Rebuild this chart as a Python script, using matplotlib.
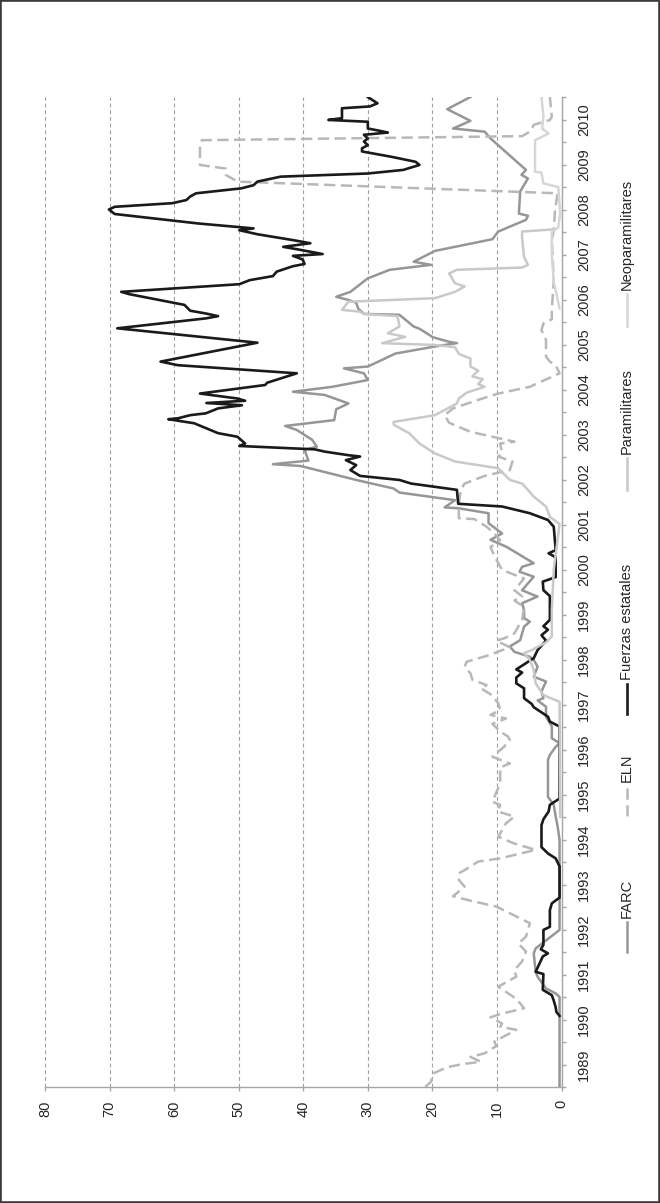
import matplotlib
matplotlib.use("Agg")
import matplotlib.pyplot as plt
from matplotlib.lines import Line2D
from matplotlib.patches import Rectangle
from matplotlib.ticker import FixedFormatter, NullFormatter
import numpy as np

plt.rcParams['font.family'] = ['Liberation Sans', 'DejaVu Sans']

# ---------------------------------------------------------------- data
years = list(range(1989, 2011))
value_ticks = [0, 10, 20, 30, 40, 50, 60, 70, 80]
legend_labels = ["FARC", "ELN", "Fuerzas estatales", "Paramilitares", "Neoparamilitares"]

farc_t = [1989.0, 1991.0, 1991.08, 1991.19, 1991.45, 1991.56, 1991.97, 1992.08, 1992.49,
          1994.49, 1994.79, 1995.01, 1995.27, 1995.45, 1996.27, 1996.38, 1996.56, 1996.64,
          1996.75, 1997.01, 1997.23, 1997.45, 1997.59, 1997.64, 1997.79, 1998.01, 1998.12,
          1998.34, 1998.49, 1998.56, 1998.67, 1998.79, 1998.93, 1999.23, 1999.34, 1999.42,
          1999.6, 1999.75, 1999.9, 1999.93, 2000.04, 2000.19, 2000.34, 2000.45, 2000.56,
          2000.64, 2001.01, 2001.16, 2001.3, 2001.53, 2001.75, 2001.86, 2001.88, 2002.04,
          2002.21, 2002.3, 2002.49, 2002.8, 2002.84, 2002.92, 2003.16, 2003.23, 2003.38,
          2003.6, 2003.69, 2003.82, 2004.06, 2004.19, 2004.38, 2004.45, 2004.56, 2004.71,
          2004.86, 2004.97, 2005.01, 2005.3, 2005.47, 2005.53, 2005.56, 2005.66, 2005.85,
          2005.9, 2006.16, 2006.18, 2006.3, 2006.43, 2006.49, 2006.56, 2006.67, 2006.97,
          2007.16, 2007.27, 2007.34, 2007.58, 2007.84, 2008.01, 2008.27, 2008.36, 2008.41,
          2008.9, 2009.19, 2009.27, 2009.38, 2010.08, 2010.23, 2010.3, 2010.47, 2010.73, 2011.0]
farc_v = [0.3, 0.3, 0.9, 2.4, 3.7, 4.0, 4.3, 4.0, 0.3,
          0.3, 0.6, 0.9, 1.2, 2.1, 2.1, 1.8, 0.9, 0.3,
          1.5, 1.5, 2.4, 2.4, 3.7, 2.8, 3.1, 2.4, 4.3,
          3.7, 4.3, 4.9, 7.3, 8.0, 6.4, 5.8, 4.9, 5.8,
          5.8, 6.1, 3.7, 4.3, 6.1, 5.2, 4.3, 6.5, 6.1,
          4.3, 8.6, 11.0, 9.2, 11.3, 11.3, 15.9, 18.1, 16.5,
          25.1, 26.0, 31.8, 40.4, 44.7, 39.2, 39.8, 37.9, 38.6,
          41.0, 42.8, 35.2, 34.9, 33.0, 36.7, 41.6, 35.5, 30.0,
          30.6, 33.7, 30.0, 25.7, 19.0, 16.2, 17.4, 19.9, 22.0,
          22.9, 25.1, 30.6, 31.5, 31.8, 33.0, 34.9, 32.7, 30.0,
          26.6, 20.2, 22.9, 19.6, 10.7, 9.8, 5.5, 5.2, 6.6,
          6.4, 5.2, 6.2, 5.5, 11.0, 11.9, 16.8, 14.1, 17.7, 14.1]

eln_t = [1989.0, 1989.12, 1989.3, 1989.44, 1989.51, 1989.56, 1989.67, 1989.75, 1989.91,
         1990.01, 1990.27, 1990.34, 1990.41, 1990.55, 1990.62, 1990.75, 1990.86, 1991.02,
         1991.14, 1991.23, 1991.45, 1991.6, 1991.79, 1992.01, 1992.19, 1992.34, 1992.64,
         1992.86, 1993.01, 1993.14, 1993.24, 1993.45, 1993.6, 1993.75, 1993.82, 1994.01,
         1994.08, 1994.27, 1994.41, 1994.56, 1994.86, 1995.01, 1995.12, 1995.27, 1995.34,
         1995.75, 1996.1, 1996.19, 1996.27, 1996.34, 1996.56, 1996.71, 1996.79, 1996.9,
         1997.07, 1997.19, 1997.27, 1997.38, 1997.53, 1997.73, 1997.86, 1997.93, 1998.05,
         1998.19, 1998.34, 1998.45, 1998.58, 1998.77, 1998.92, 1998.97, 1999.08, 1999.38,
         1999.67, 1999.81, 1999.9, 2000.04, 2000.3, 2000.49, 2000.8, 2001.0, 2001.15,
         2001.3, 2001.45, 2001.62, 2001.64, 2001.96, 2002.28, 2002.41, 2002.58, 2002.71,
         2002.9, 2003.01, 2003.08, 2003.3, 2003.34, 2003.44, 2003.56, 2003.76, 2003.93,
         2004.08, 2004.27, 2004.41, 2004.56, 2004.86, 2005.04, 2005.12, 2005.23, 2005.6,
         2005.82, 2005.97, 2006.06, 2006.27, 2006.93, 2007.82, 2008.04, 2008.5, 2008.86,
         2009.12, 2009.27, 2009.41, 2009.49, 2009.9, 2010.04, 2010.13, 2010.23, 2010.38,
         2010.49, 2010.56, 2011.0]
eln_v = [21.1, 20.2, 19.9, 17.7, 15.3, 12.5, 14.1, 11.9, 10.1,
         10.4, 7.0, 9.5, 9.2, 11.0, 9.5, 5.8, 6.4, 7.6,
         8.9, 9.8, 7.0, 7.3, 6.1, 5.5, 6.7, 5.5, 4.9,
         8.0, 10.1, 14.1, 16.8, 15.0, 15.9, 15.9, 15.0, 12.9,
         9.5, 4.0, 7.3, 9.8, 8.6, 7.3, 9.8, 9.5, 10.7,
         9.5, 9.5, 8.0, 9.5, 10.7, 8.9, 8.0, 8.3, 9.5,
         10.7, 8.6, 11.0, 9.5, 9.8, 11.0, 12.5, 11.6, 13.8,
         14.1, 15.0, 14.7, 11.6, 8.0, 10.1, 8.9, 7.3, 6.1,
         5.8, 7.3, 6.1, 7.3, 5.8, 9.2, 10.4, 11.0, 9.5,
         10.4, 11.6, 13.5, 15.9, 15.9, 15.6, 15.0, 11.9, 8.0,
         7.6, 9.8, 9.2, 9.5, 7.3, 10.4, 14.1, 17.4, 18.1,
         16.8, 12.9, 9.8, 4.9, 0.3, 0.9, 1.8, 2.4, 2.4,
         3.1, 2.8, 1.5, 1.5, 1.2, 1.5, 1.2, 1.0, 0.6,
         50.2, 52.0, 52.0, 56.0, 56.0, 55.7, 6.1, 4.9, 4.3,
         1.8, 1.5, 1.8]

estado_t = [1990.58, 1990.67, 1990.77, 1990.92, 1991.04, 1991.16, 1991.51, 1991.56, 1991.9,
            1991.97, 1992.06, 1992.16, 1992.49, 1992.56, 1992.93, 1993.08, 1993.21, 1993.9,
            1994.08, 1994.19, 1994.33, 1994.82, 1994.95, 1995.12, 1995.27, 1995.41, 1996.85,
            1997.01, 1997.12, 1997.23, 1997.44, 1997.51, 1997.64, 1997.86, 1997.97, 1998.1,
            1998.21, 1998.28, 1998.42, 1998.53, 1998.71, 1998.92, 1999.04, 1999.16, 1999.24,
            1999.38, 1999.91, 2000.04, 2000.23, 2000.33, 2000.49, 2000.77, 2000.86, 2000.93,
            2001.45, 2001.6, 2001.75, 2001.9, 2001.96, 2002.27, 2002.41, 2002.49, 2002.58,
            2002.71, 2002.82, 2002.93, 2003.01, 2003.04, 2003.12, 2003.17, 2003.245, 2003.3,
            2003.45, 2003.53, 2003.75, 2003.84, 2003.86, 2003.93, 2003.97, 2004.08, 2004.15,
            2004.2, 2004.25, 2004.3, 2004.41, 2004.6, 2004.65, 2004.86, 2005.04, 2005.12,
            2005.54, 2005.86, 2006.08, 2006.13, 2006.19, 2006.25, 2006.38, 2006.62, 2006.67,
            2006.84, 2006.93, 2007.02, 2007.12, 2007.24, 2007.29, 2007.39, 2007.47, 2007.51,
            2007.61, 2007.67, 2007.75, 2007.82, 2007.95, 2008.04, 2008.08, 2008.19, 2008.4,
            2008.5, 2008.56, 2008.64, 2008.71, 2008.79, 2008.86, 2008.97, 2009.04, 2009.12,
            2009.23, 2009.3, 2009.38, 2009.49, 2009.56, 2009.67, 2009.79, 2009.86, 2009.93,
            2010.01, 2010.08, 2010.16, 2010.21, 2010.25, 2010.3, 2010.45, 2010.49, 2010.53,
            2010.75, 2010.79, 2010.86, 2011.0]
estado_v = [0.3, 0.8, 0.9, 1.2, 1.5, 2.9, 2.8, 4.0, 2.9,
            2.1, 3.2, 2.8, 2.8, 1.8, 1.8, 1.5, 0.3, 0.3,
            0.9, 2.1, 3.1, 3.1, 2.8, 2.0, 1.8, 0.3, 0.3,
            0.3, 1.8, 2.1, 4.3, 4.6, 5.8, 5.8, 7.0, 7.0,
            6.1, 7.0, 5.5, 4.3, 3.7, 2.4, 3.1, 2.1, 2.8,
            1.8, 1.8, 2.8, 2.9, 0.9, 0.9, 0.9, 2.0, 0.9,
            1.2, 2.1, 4.9, 9.2, 16.0, 16.2, 23.3, 25.1, 31.2,
            32.7, 31.8, 33.4, 31.2, 33.0, 36.7, 38.2, 49.9, 49.0,
            50.2, 53.2, 56.9, 60.9, 59.4, 57.5, 55.1, 53.2, 49.5,
            55.0, 49.0, 50.2, 56.0, 45.9, 45.6, 41.0, 59.4, 62.1,
            47.1, 68.8, 55.1, 53.2, 55.1, 57.5, 58.4, 67.0, 68.2,
            49.9, 48.3, 44.7, 44.1, 41.6, 39.8, 40.1, 41.6, 37.0,
            40.7, 43.1, 38.9, 41.6, 47.1, 49.9, 47.7, 56.3, 69.2,
            70.1, 69.2, 60.3, 58.1, 57.5, 56.6, 49.6, 47.7, 47.1,
            43.5, 30.0, 24.5, 22.0, 22.6, 26.3, 30.9, 30.9, 30.0,
            30.6, 30.0, 30.6, 26.9, 28.2, 30.0, 30.0, 36.1, 34.0,
            34.0, 29.7, 28.5, 30.0]

para_t = [1995.0, 1997.56, 1997.71, 1997.97, 1998.27, 1998.49, 1998.64, 1998.71, 1998.88,
          1999.01, 1999.6, 2000.49, 2001.51, 2001.67, 2001.9, 2002.12, 2002.27, 2002.41,
          2002.49, 2002.75, 2002.9, 2003.08, 2003.3, 2003.53, 2003.72, 2003.78, 2003.85,
          2003.93, 2004.12, 2004.19, 2004.3, 2004.43, 2004.56, 2004.62, 2004.73, 2004.79,
          2004.92, 2005.01, 2005.19, 2005.29, 2005.44, 2005.49, 2005.53, 2005.67, 2005.75,
          2005.9, 2006.13, 2006.18, 2006.23, 2006.27, 2006.45, 2006.53, 2006.67, 2006.79,
          2006.86, 2007.08, 2007.16, 2007.21, 2007.27, 2007.45, 2007.86, 2008.01, 2008.06]
para_v = [0.2, 0.3, 2.8, 4.0, 4.3, 4.9, 5.8, 4.6, 2.4,
          1.5, 1.5, 1.2, 0.3, 1.8, 2.4, 4.3, 5.2, 6.1,
          8.0, 9.8, 16.5, 19.6, 22.0, 23.6, 26.0, 26.0, 23.0,
          19.6, 17.1, 16.2, 15.9, 14.7, 11.9, 12.9, 12.2, 13.8,
          12.9, 14.1, 14.1, 15.9, 16.5, 19.6, 27.8, 24.2, 26.9,
          25.1, 25.4, 30.6, 31.2, 34.0, 33.0, 19.6, 16.5, 15.0,
          16.5, 17.4, 16.2, 6.1, 5.2, 5.8, 6.1, 6.1, 1.0]

neo_t = [2006.3, 2006.9, 2007.5, 2008.0, 2008.1, 2008.41, 2009.0, 2009.08, 2009.32,
         2009.34, 2010.04, 2010.19, 2010.3, 2010.56, 2011.0]
neo_v = [0.3, 1.2, 1.5, 1.5, 0.5, 0.2, 0.5, 2.8, 3.1,
         4.1, 4.1, 2.0, 3.0, 2.8, 3.1]

# ---------------------------------------------------------------- figure
W, H, DPI = 660, 1203, 100
fig = plt.figure(figsize=(W / DPI, H / DPI), dpi=DPI)
fig.patch.set_facecolor("white")

# plot box in pixel units (measured from the top-left corner)
left_px, right_px, top_px, bottom_px = 45, 561.5, 97, 1087
ax = fig.add_axes([left_px / W, 1 - bottom_px / H,
                   (right_px - left_px) / W, (bottom_px - top_px) / H])
ax.set_xlim(80, 0)
ax.set_ylim(1989, 2011)

axis_grey = "#a6a6a6"
text_col = "#262626"

styles = [
    dict(color="#969696", lw=1.8, ls="-"),
    dict(color="#b8b8b8", lw=1.8, ls=(0, (4.5, 2.2))),
    dict(color="#1a1a1a", lw=1.9, ls="-"),
    dict(color="#c9c9c9", lw=1.8, ls="-"),
    dict(color="#d6d6d6", lw=1.8, ls="-"),
]
series = [(farc_t, farc_v), (eln_t, eln_v), (estado_t, estado_v),
          (para_t, para_v), (neo_t, neo_v)]
for (t, v), st in zip(series, styles):
    ax.plot(v, t, solid_joinstyle="round", dash_capstyle="butt", **st, zorder=3)

# value axis (bottom) with dashed vertical gridlines
ax.set_xticks(value_ticks)
ax.set_xticklabels([str(v) for v in value_ticks], rotation=90, fontsize=10.5,
                   color=text_col)
ax.xaxis.grid(True, linestyle=(0, (3.5, 2.5)), color="#a0a0a0", lw=0.8)
ax.tick_params(axis="x", direction="out", length=3, width=1.0, color=axis_grey,
               pad=6.5)

# time axis (right): labelled ticks at mid-year, plain ticks at year starts
ax.yaxis.set_ticks_position("right")
ax.set_yticks([y + 0.5 for y in years])
ax.yaxis.set_major_formatter(FixedFormatter([str(y) for y in years]))
ax.set_yticks(np.arange(1989, 2011.01, 1.0), minor=True)
ax.yaxis.set_minor_formatter(NullFormatter())
ax.tick_params(axis="y", which="both", direction="out", length=3, width=1.0,
               color=axis_grey, left=False, right=True)
ax.tick_params(axis="y", which="major", pad=8, labelleft=False,
               labelright=True, labelsize=10.5, labelcolor=text_col,
               labelrotation=90)
for lab in ax.yaxis.get_majorticklabels(which="both") if False else ax.get_yticklabels():
    lab.set_verticalalignment("center")
    lab.set_horizontalalignment("left")

for side in ("top", "left"):
    ax.spines[side].set_visible(False)
for side in ("bottom", "right"):
    ax.spines[side].set_color(axis_grey)
    ax.spines[side].set_linewidth(1.0)
ax.set_axisbelow(True)

# legend drawn as rotated entries along the right margin
def fx(px):
    return px / W

def fy(py):
    return 1 - py / H

legend_x = 627
legend_rows = [(952, 922), (816, 786), (714, 684), (490, 458), (326, 294)]
for (y0, y1), st, lab in zip(legend_rows, styles, legend_labels):
    fig.add_artist(Line2D([fx(legend_x), fx(legend_x)], [fy(y0), fy(y1)],
                          transform=fig.transFigure, color=st["color"],
                          lw=st["lw"], ls=st["ls"]))
    fig.text(fx(legend_x), fy(y1 - 4), lab, rotation=90, ha="center",
             va="bottom", fontsize=10.5, color=text_col)

# outer frame
fig.add_artist(Rectangle((0, 0), 1, 1, transform=fig.transFigure, fill=False,
                         edgecolor="#3a3a3a", lw=2.6))

fig.savefig("out.png", dpi=DPI, facecolor="white")
